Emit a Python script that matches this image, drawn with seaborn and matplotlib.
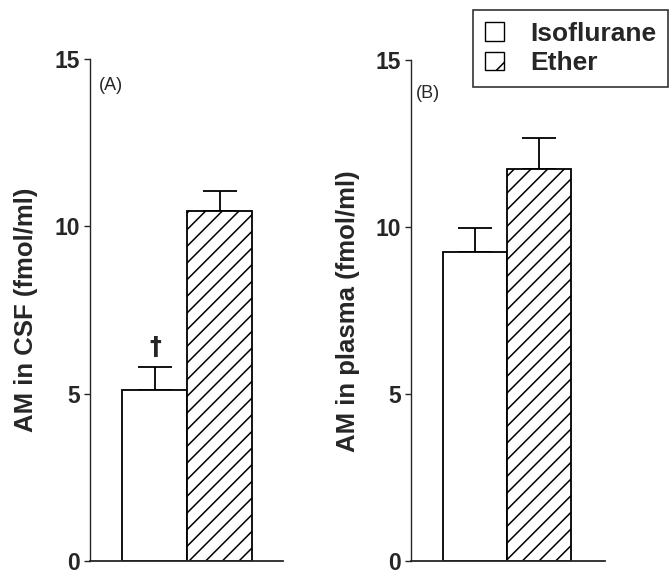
import pandas as pd
import seaborn as sns
import matplotlib.pyplot as plt

# Values (mean and upper error)
groups = ['Isoflurane', 'Ether']
csf_mean = [5.1, 10.45]
csf_err = [0.7, 0.6]
plasma_mean = [9.25, 11.75]
plasma_err = [0.72, 0.9]
panel_tags = ['(A)', '(B)']
ylabels = ['AM in CSF (fmol/ml)', 'AM in plasma (fmol/ml)']
yticks = [0, 5, 10, 15]

sns.set_style('ticks')
plt.rcParams['font.family'] = ['Liberation Sans', 'DejaVu Sans']
plt.rcParams['hatch.linewidth'] = 1.1

fig = plt.figure(figsize=(6.71, 5.75), dpi=100)
W, H = 671, 575


def px_axes(x0, x1, y0, y1):
    # pixel box -> figure fraction
    return fig.add_axes([x0 / W, 1 - y0 / H, (x1 - x0) / W, (y0 - y1) / H])


ax_a = px_axes(90, 283, 561, 59)
ax_b = px_axes(411, 605, 561, 60)

panels = [
    (ax_a, csf_mean, csf_err, (-1.0, 1.97)),
    (ax_b, plasma_mean, plasma_err, (-1.0, 2.03)),
]

for i, (ax, means, errs, xl) in enumerate(panels):
    df = pd.DataFrame({'anesthetic': groups, 'value': means})
    sns.barplot(data=df, x='anesthetic', y='value', hue='anesthetic',
                palette=['white', 'white'], edgecolor='black', linewidth=1.3,
                width=1.0, errorbar=None, legend=False, ax=ax, zorder=2)
    ax.patches[1].set_hatch('//')
    ax.errorbar([0, 1], means, yerr=[[0, 0], errs], fmt='none',
                ecolor='black', elinewidth=1.3, capsize=12, capthick=1.3,
                zorder=1)
    ax.set_xlim(*xl)
    ax.set_ylim(0, 15)
    ax.set_yticks(yticks)
    ax.set_yticklabels([str(t) for t in yticks], fontsize=16.5,
                       fontweight='bold')
    ax.set_xticks([])
    ax.set_xlabel('')
    ax.set_ylabel('')
    ax.tick_params(axis='y', length=4, width=1, pad=3, direction='out')
    ax.spines['left'].set_linewidth(1.0)
    ax.spines['bottom'].set_linewidth(1.3)
    sns.despine(ax=ax)
    ax.set_facecolor('none')

ax_a.text(-0.86, 14.2, panel_tags[0], fontsize=13, va='center', ha='left')
ax_b.text(-0.92, 14.0, panel_tags[1], fontsize=13, va='center', ha='left')

# significance mark above the isoflurane CSF bar
ax_a.text(0, csf_mean[0] + csf_err[0] + 0.6, '\u2020', fontsize=17,
          fontweight='bold', family='DejaVu Sans', ha='center', va='center')

fig.text(26 / W, 1 - 310 / H, ylabels[0], rotation=90, ha='center',
         va='center', fontsize=18.5, fontweight='bold')
fig.text(348 / W, 1 - 311 / H, ylabels[1], rotation=90, ha='center',
         va='center', fontsize=18.5, fontweight='bold')

handles = [plt.Rectangle((0, 0), 1, 1, facecolor='white', edgecolor='black',
                         linewidth=1.0),
           plt.Rectangle((0, 0), 1, 1, facecolor='white', edgecolor='black',
                         linewidth=1.0, hatch='/')]
leg = fig.legend(handles, groups, loc='upper right',
                 bbox_to_anchor=(668 / W, 1 - 10 / H), borderaxespad=0,
                 prop={'size': 19, 'weight': 'bold'}, frameon=True,
                 fancybox=False, edgecolor='black', handlelength=0.7,
                 handleheight=0.7, handletextpad=1.0, labelspacing=0.2,
                 borderpad=0.45)
leg.get_frame().set_linewidth(1.2)

fig.savefig('out.png', dpi=100, facecolor='white')
